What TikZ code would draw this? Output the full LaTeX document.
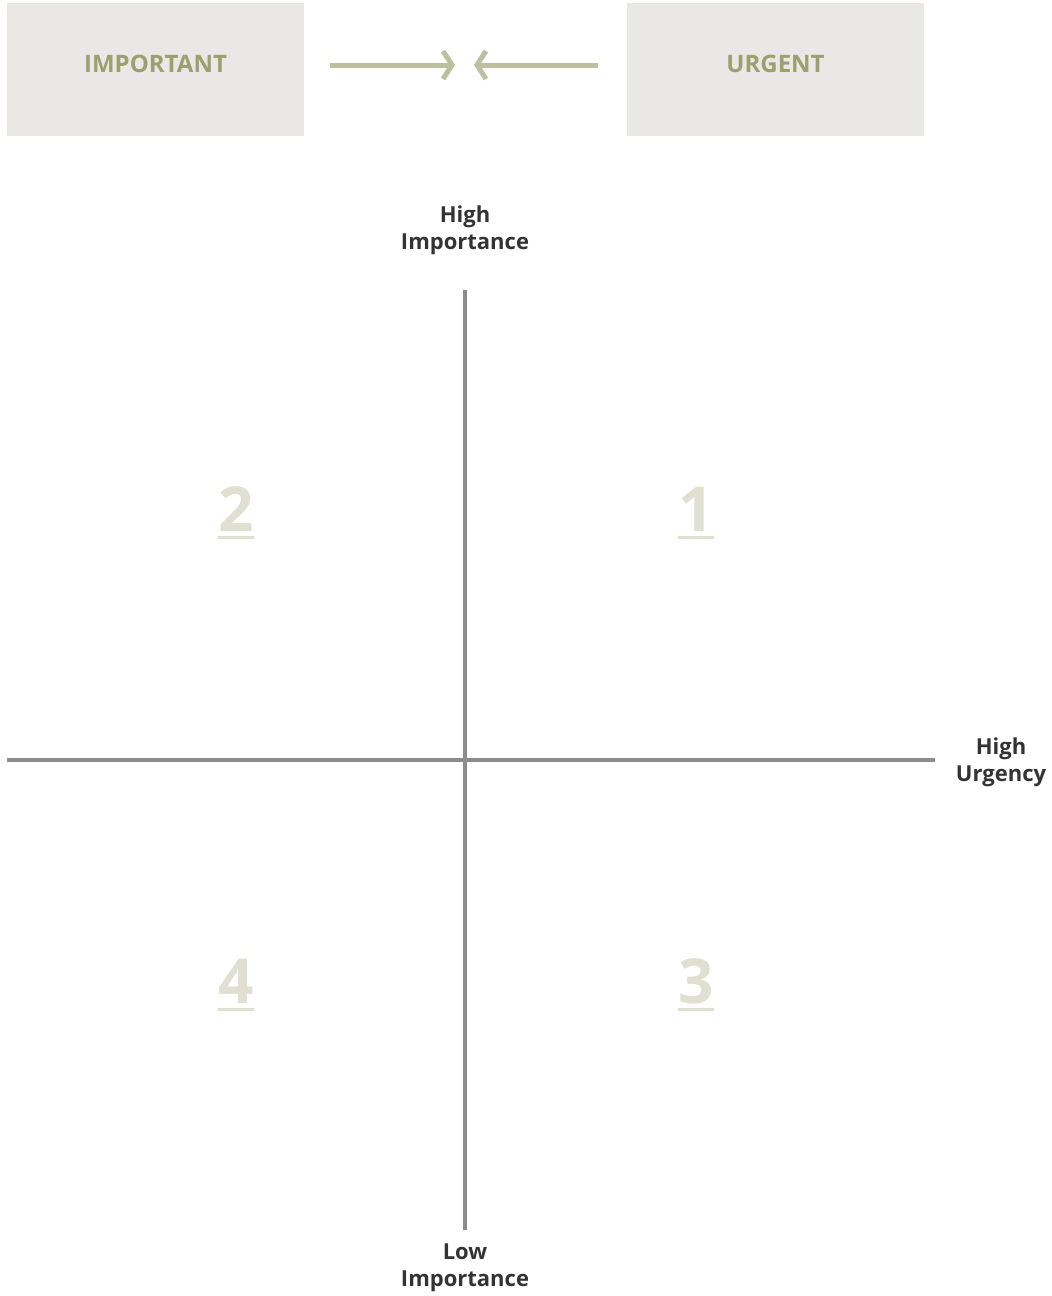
\documentclass[tikz,border=0pt]{standalone}
\usepackage{fontspec}
\setmainfont{Open Sans}
\usetikzlibrary{arrows.meta}
\definecolor{boxfill}{HTML}{E9E8E6}
\definecolor{olive}{HTML}{9BA06E}
\definecolor{arrowc}{HTML}{BCC09E}
\definecolor{axisc}{HTML}{8C8C8C}
\definecolor{numc}{HTML}{DFDFD2}
\definecolor{labelc}{HTML}{333333}
\tikzset{
  topbox/.style={fill=boxfill, draw=none, minimum width=297pt, minimum height=133pt, inner sep=0pt,
    text height=17pt, text depth=10pt,
    font=\fontsize{24}{27}\selectfont\bfseries, text=olive},
  convarrow/.style={draw=arrowc, line width=5pt, -{Straight Barb[length=9pt,width=28pt,line width=5pt]}},
  axisline/.style={draw=axisc, line width=4pt},
  axlabel/.style={font=\fontsize{22}{27}\selectfont\bfseries, text=labelc, align=center, inner sep=0pt},
  quadnum/.style={font=\fontsize{62}{62}\selectfont\bfseries, text=numc, inner sep=0pt},
  numline/.style={draw=numc, line width=3pt}
}
\begin{document}
\begin{tikzpicture}[x=1pt,y=-1pt]
\useasboundingbox (0,0) rectangle (1052,1296);
% top boxes
\node[topbox] (imp) at (155.5,69) {IMPORTANT};
\node[topbox] (urg) at (775.5,69) {URGENT};
\coordinate (al1) at (330,65);
\coordinate (al2) at (455,65);
\coordinate (ar1) at (598,65);
\coordinate (ar2) at (474,65);
\draw[convarrow] (al1) -- (al2);
\draw[convarrow] (ar1) -- (ar2);
% axes
\coordinate (vt) at (465,290);
\coordinate (vb) at (465,1230);
\coordinate (hl) at (7,760);
\coordinate (hr) at (935,760);
\draw[axisline] (vt) -- (vb);
\draw[axisline] (hl) -- (hr);
% axis labels
\node[axlabel] (hi) at (465,230) {High\\Importance};
\node[axlabel] (hu) at (1001,762) {High\\Urgency};
\node[axlabel] (li) at (465,1268) {Low\\Importance};
% quadrant numbers
\node[quadnum, anchor=base] (n2) at (236,531) {2};
\node[quadnum, anchor=base] (n1) at (696,531) {1};
\node[quadnum, anchor=base] (n4) at (236,1003) {4};
\node[quadnum, anchor=base] (n3) at (696,1003) {3};
\foreach \n in {n1,n2,n3,n4}{
  \draw[numline] ([yshift=-6pt]\n.base west) -- ([yshift=-6pt]\n.base east);
}
\end{tikzpicture}
\end{document}
